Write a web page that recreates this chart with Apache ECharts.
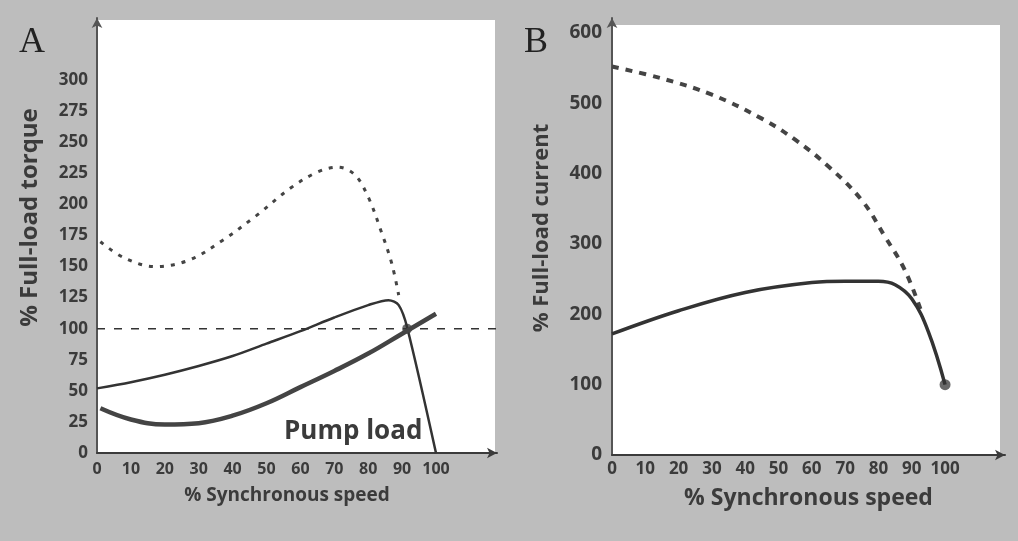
<!DOCTYPE html>
<html><head><meta charset="utf-8">
<script src="https://cdn.jsdelivr.net/npm/echarts@6/dist/echarts.min.js"></script>
<style>html,body{margin:0;padding:0;background:#bcbcbc}#c{width:1018px;height:541px}</style>
</head><body><div id="c"></div>
<script>
// ---- Panel A: torque (% full-load) vs % synchronous speed ----
const fullVoltTorqueX = [1, 8, 17, 27, 37, 47, 57, 65, 71, 76, 80, 84, 87, 89];
const fullVoltTorqueY = [170, 157, 150, 155, 171, 191, 213, 226, 230, 224, 206, 177, 152, 127];
const reducedTorqueX = [0, 10, 20, 30, 40, 50, 60, 70, 80, 86, 89, 91.5, 100];
const reducedTorqueY = [52, 57, 63, 70, 78, 88, 98, 109, 119, 123, 119, 101, 0];
const pumpLoadX = [1, 10, 20, 30, 40, 50, 60, 70, 80, 90, 100];
const pumpLoadY = [36, 27, 23, 24, 30, 40, 53, 66, 80, 96, 112];
const fullLoadLevel = 100;
const crossingPoint = [91.5, 100];
// ---- Panel B: current (% full-load) vs % synchronous speed ----
const fullVoltCurrentX = [0, 15, 30, 45, 55, 65, 75, 82, 88, 93];
const fullVoltCurrentY = [552, 535, 512, 478, 448, 410, 362, 310, 262, 202];
const reducedCurrentX = [0, 20, 40, 60, 70, 80, 85, 90, 95, 100];
const reducedCurrentY = [172, 205, 231, 245, 247, 247, 242, 222, 175, 100];
const endPoint = [100, 100];
// ---- axis ticks ----
const speedMax = 118, speedStep = 10, speedLabelMax = 100;
const torqueMax = 350, torqueStep = 25, torqueLabelMax = 300;
const currentMax = 621, currentStep = 100, currentLabelMax = 600;

const zip = (xs, ys) => xs.map((x, i) => [x, ys[i]]);
const ink = '#3b3b3b';
const font = '"Open Sans", "Noto Sans", sans-serif';
const lbl = (lim, step) => v => (v <= lim && v % step === 0) ? String(v) : '';

const chart = echarts.init(document.getElementById('c'));
chart.setOption({
  backgroundColor: '#bdbdbd',
  animation: false,
  graphic: [
    {type: 'rect', z: -10, shape: {x: 97, y: 20, width: 398, height: 433}, style: {fill: '#ffffff'}},
    {type: 'rect', z: -10, shape: {x: 612, y: 25, width: 388, height: 430}, style: {fill: '#ffffff'}},
    {type: 'text', left: 19, top: 25, style: {text: 'A', font: '36px "Liberation Serif", "DejaVu Serif", serif', fill: '#222'}},
    {type: 'text', left: 524, top: 25, style: {text: 'B', font: '36px "Liberation Serif", "DejaVu Serif", serif', fill: '#222'}},
    {type: 'text', left: 284, top: 419, z: 10, style: {text: 'Pump load', font: 'bold 26px ' + font, fill: ink}}
  ],
  grid: [
    {left: 97, right: 521, top: 18, bottom: 88},
    {left: 612, right: 13, top: 18, bottom: 86}
  ],
  xAxis: [
    {gridIndex: 0, type: 'value', min: 0, max: speedMax, interval: speedStep,
     name: '% Synchronous speed', nameLocation: 'middle', nameGap: 33,
     nameTextStyle: {color: ink, fontWeight: 'bold', fontSize: 19, fontFamily: font, padding: [0, 20, 0, 0]},
     axisLine: {lineStyle: {color: ink, width: 2}, symbol: ['none', 'arrow'], symbolSize: [8, 10]},
     axisTick: {show: false}, splitLine: {show: false},
     axisLabel: {formatter: lbl(speedLabelMax, speedStep), color: ink, fontWeight: 'bold', fontSize: 16, fontFamily: font, margin: 8, showMaxLabel: false}},
    {gridIndex: 1, type: 'value', min: 0, max: speedMax, interval: speedStep,
     name: '% Synchronous speed', nameLocation: 'middle', nameGap: 32,
     nameTextStyle: {color: ink, fontWeight: 'bold', fontSize: 23, fontFamily: font},
     axisLine: {lineStyle: {color: ink, width: 2}, symbol: ['none', 'arrow'], symbolSize: [8, 10]},
     axisTick: {show: false}, splitLine: {show: false},
     axisLabel: {formatter: lbl(speedLabelMax, speedStep), color: ink, fontWeight: 'bold', fontSize: 17, fontFamily: font, margin: 6, showMaxLabel: false}}
  ],
  yAxis: [
    {gridIndex: 0, type: 'value', min: 0, max: torqueMax, interval: torqueStep,
     name: '% Full-load torque', nameLocation: 'middle', nameGap: 55,
     nameTextStyle: {color: ink, fontWeight: 'bold', fontSize: 24, fontFamily: font, padding: [0, 0, 0, 36]},
     axisLine: {show: true, lineStyle: {color: '#555', width: 2}, symbol: ['none', 'arrow'], symbolSize: [8, 10]},
     axisTick: {show: false}, splitLine: {show: false},
     axisLabel: {formatter: lbl(torqueLabelMax, torqueStep), color: ink, fontWeight: 'bold', fontSize: 17, fontFamily: font, margin: 9, showMaxLabel: false}},
    {gridIndex: 1, type: 'value', min: 0, max: currentMax, interval: currentStep,
     name: '% Full-load current', nameLocation: 'middle', nameGap: 59,
     nameTextStyle: {color: ink, fontWeight: 'bold', fontSize: 22, fontFamily: font, padding: [0, 0, 0, 17]},
     axisLine: {show: true, lineStyle: {color: '#555', width: 2}, symbol: ['none', 'arrow'], symbolSize: [8, 10]},
     axisTick: {show: false}, splitLine: {show: false},
     axisLabel: {formatter: lbl(currentLabelMax, currentStep), color: ink, fontWeight: 'bold', fontSize: 19, fontFamily: font, margin: 10, showMaxLabel: false}}
  ],
  series: [
    {type: 'line', xAxisIndex: 0, yAxisIndex: 0, data: [[0, fullLoadLevel], [speedMax, fullLoadLevel]],
     symbol: 'none', lineStyle: {color: '#333', width: 1.5, type: [8, 9]}, silent: true},
    {type: 'line', xAxisIndex: 0, yAxisIndex: 0, data: zip(fullVoltTorqueX, fullVoltTorqueY),
     smooth: 0.35, symbol: 'none', lineStyle: {color: '#444', width: 3, type: [4, 7]}},
    {type: 'line', xAxisIndex: 0, yAxisIndex: 0, data: zip(reducedTorqueX, reducedTorqueY),
     smooth: 0.3, symbol: 'none', lineStyle: {color: '#333', width: 2.5}},
    {type: 'line', xAxisIndex: 0, yAxisIndex: 0, data: zip(pumpLoadX, pumpLoadY),
     smooth: 0.4, symbol: 'none', lineStyle: {color: '#444', width: 4.5}},
    {type: 'scatter', xAxisIndex: 0, yAxisIndex: 0, data: [crossingPoint], symbolSize: 10, itemStyle: {color: '#444'}},
    {type: 'line', xAxisIndex: 1, yAxisIndex: 1, data: zip(fullVoltCurrentX, fullVoltCurrentY),
     smooth: 0.4, symbol: 'none', lineStyle: {color: '#444', width: 4, type: [7, 7]}},
    {type: 'line', xAxisIndex: 1, yAxisIndex: 1, data: zip(reducedCurrentX, reducedCurrentY),
     smooth: 0.4, symbol: 'none', lineStyle: {color: '#333', width: 3.5}},
    {type: 'scatter', xAxisIndex: 1, yAxisIndex: 1, data: [endPoint], symbolSize: 11, itemStyle: {color: '#444'}}
  ]
});
</script></body></html>
